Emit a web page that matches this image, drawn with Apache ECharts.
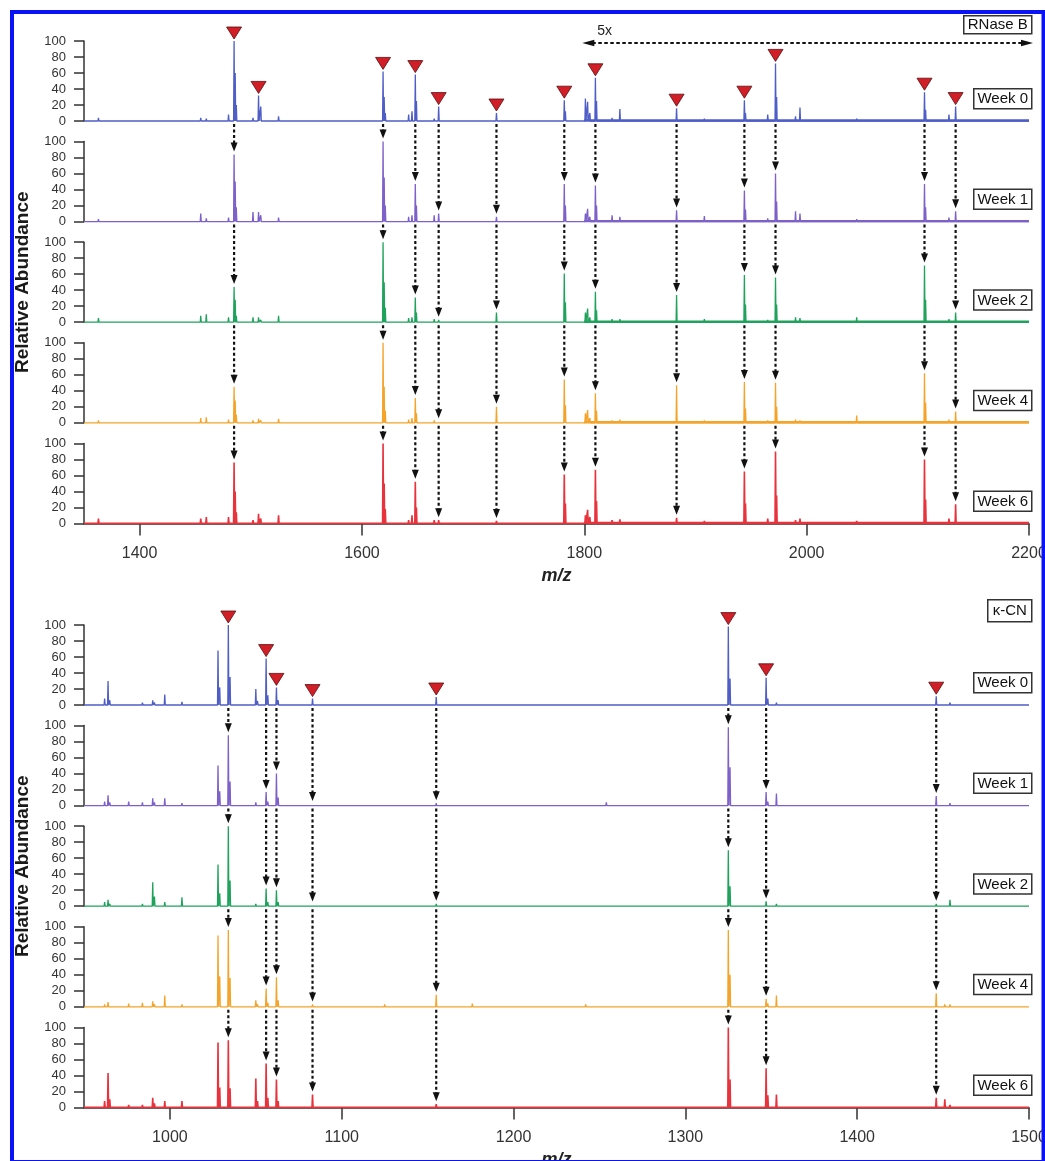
<!DOCTYPE html>
<html>
<head>
<meta charset="utf-8">
<title>Glycopeptide spectra over storage time</title>
<script src="https://cdn.jsdelivr.net/npm/echarts@6/dist/echarts.min.js"></script>
<style>
  html, body { margin: 0; padding: 0; background: #ffffff; }
  #chart { width: 1045px; height: 1161px; }
</style>
</head>
<body>
<div id="chart"></div>
<script>
// ---- data -------------------------------------------------------------
const weekNames  = ['Week 0', 'Week 1', 'Week 2', 'Week 4', 'Week 6'];
const weekColors = ['#4f5ec6', '#7d60c8', '#1fa35c', '#f4a42a', '#e8323c'];

// RNase B: peak positions (m/z) and relative abundance per week
const rnaseMz    = [1363,1455,1460,1480,1485,1486,1487,1502,1507,1509,1525,1619,1620,1621,1642,1645,1648,1649,1665,1669,1721,1782,1783,1801,1803,1805,1810,1811,1825,1832,1883,1908,1944,1945,1965,1972,1973,1990,1994,2045,2106,2107,2128,2134];
const rnaseWeek0 = [4,4,3,8,100,60,20,4,32,18,6,62,30,10,8,12,58,25,3,18,10,26,12,28,24,10,54,25,4,15,16,3,26,10,8,72,30,6,17,3,36,14,8,18];
const rnaseWeek1 = [3,10,4,5,84,50,18,12,12,8,5,100,55,20,6,8,47,20,8,10,6,47,20,10,16,6,45,20,8,6,14,7,39,15,4,60,25,13,10,3,47,18,5,13];
const rnaseWeek2 = [5,8,10,6,44,28,8,6,6,3,8,100,50,18,5,6,31,12,4,3,12,61,25,12,17,6,38,15,4,4,34,4,59,22,3,56,22,6,5,6,71,28,4,12];
const rnaseWeek4 = [3,6,7,4,45,28,10,3,5,3,5,100,45,15,4,6,31,12,3,2,20,54,22,12,16,6,37,15,3,4,47,3,51,18,3,50,20,4,3,9,62,25,4,14];
const rnaseWeek6 = [6,6,8,8,76,40,14,4,12,6,10,100,50,18,4,10,52,20,4,4,3,61,25,10,17,8,67,28,4,5,7,3,65,25,6,90,35,4,6,3,80,30,6,24];
const rnaseMarked  = [1485,1507,1619,1648,1669,1721,1782,1810,1883,1944,1972,2106,2134];
const rnaseTracked = [1485,1619,1648,1669,1721,1782,1810,1883,1944,1972,2106,2134];
const rnaseMagnified = [1800, 2200];   // range shown at 5x
const rnaseTicks = [1400, 1600, 1800, 2000, 2200];

// κ-CN: peak positions (m/z) and relative abundance per week
const caseinMz    = [962,964,965,976,984,990,991,997,1007,1028,1029,1034,1035,1050,1051,1056,1057,1062,1063,1083,1125,1155,1176,1242,1254,1325,1326,1347,1348,1353,1446,1451,1454];
const caseinWeek0 = [8,30,6,2,3,6,3,13,4,68,22,100,35,20,5,58,12,22,6,8,0,10,0,0,0,98,33,34,8,3,11,2,3];
const caseinWeek1 = [5,13,4,5,4,9,4,9,3,50,18,88,30,4,2,17,5,40,10,2,0,3,0,0,4,98,48,17,5,15,12,2,3];
const caseinWeek2 = [5,8,3,2,3,30,12,5,11,52,16,100,32,3,2,22,5,20,5,2,0,3,0,0,0,70,25,6,2,3,3,2,8];
const caseinWeek4 = [3,6,2,4,5,7,3,14,3,89,38,96,36,8,3,23,5,37,8,3,3,15,4,3,0,96,40,10,4,14,17,3,3];
const caseinWeek6 = [8,43,10,3,3,12,5,8,8,81,25,84,24,36,8,55,12,35,8,16,0,4,0,0,0,100,35,49,15,16,12,10,3];
const caseinMarked  = [1034,1056,1062,1083,1155,1325,1347,1446];
const caseinTracked = [1034,1056,1062,1083,1155,1325,1347,1446];
const caseinTicks = [1000, 1100, 1200, 1300, 1400, 1500];

// ---- layout -----------------------------------------------------------
const FONT = '"Liberation Sans", Arial, Helvetica, sans-serif';
const PLOT_LEFT = 84, PLOT_WIDTH = 945, PANEL_H = 80, PANEL_STEP = 100.6;

const panels = [
  { title: 'RNase B', titleWidth: 68, titleHeight: 18, top: 41, min: 1350, max: 2200,
    ticks: rnaseTicks, mz: rnaseMz, weeks: [rnaseWeek0, rnaseWeek1, rnaseWeek2, rnaseWeek4, rnaseWeek6],
    marked: rnaseMarked, tracked: rnaseTracked, halfWidth: 0.45, magnified: rnaseMagnified },
  { title: 'κ-CN', titleWidth: 44, titleHeight: 22, top: 625, min: 950, max: 1500,
    ticks: caseinTicks, mz: caseinMz, weeks: [caseinWeek0, caseinWeek1, caseinWeek2, caseinWeek4, caseinWeek6],
    marked: caseinMarked, tracked: caseinTracked, halfWidth: 0.3, magnified: null }
];

function valueAt(mz, values, m) { return values[mz.indexOf(m)]; }

// stick spectrum: every peak becomes a narrow spike on a zero baseline
function spikeTrace(mz, values, hw, min, max) {
  const pts = [[min, 0]];
  mz.forEach((m, i) => {
    if (values[i] > 0) pts.push([m - hw, 0], [m, values[i]], [m + hw, 0]);
  });
  pts.push([max, 0]);
  return pts;
}

// dotted arrow from the panel above down to the peak top in this panel
function renderTrackArrow(params, api) {
  const m = api.value(0), v = api.value(1);
  const base = api.coord([m, 0]);
  const peak = api.coord([m, v]);
  const x = base[0];
  const yStart = base[1] - PANEL_STEP + 3;
  const yTip = peak[1] - 3;
  const headH = 9, headW = 3.5;
  return {
    type: 'group',
    children: [
      { type: 'line', shape: { x1: x, y1: yStart, x2: x, y2: yTip - headH + 1 },
        style: { stroke: '#111', lineWidth: 2.2, lineDash: [3, 2.5] } },
      { type: 'polygon', shape: { points: [[x - headW, yTip - headH], [x + headW, yTip - headH], [x, yTip]] },
        style: { fill: '#111' } }
    ]
  };
}

// double-headed dotted arrow marking the magnified m/z range
function renderMagnifyArrow(params, api) {
  const a = api.coord([api.value(0), api.value(1)]);
  const b = api.coord([api.value(2), api.value(1)]);
  const y = a[1] + 2;
  return {
    type: 'group',
    children: [
      { type: 'line', shape: { x1: a[0] + 8, y1: y, x2: b[0] - 4, y2: y },
        style: { stroke: '#111', lineWidth: 2, lineDash: [3.5, 2.5] } },
      { type: 'polygon', shape: { points: [[a[0] - 2, y], [a[0] + 10, y - 3.2], [a[0] + 10, y + 3.2]] },
        style: { fill: '#111' } },
      { type: 'polygon', shape: { points: [[b[0] + 4, y], [b[0] - 8, y - 3.2], [b[0] - 8, y + 3.2]] },
        style: { fill: '#111' } },
      { type: 'text', style: { text: '5x', x: a[0] + 13, y: y - 5, fill: '#222',
        font: '14px ' + FONT, verticalAlign: 'bottom', align: 'left' } }
    ]
  };
}

const grid = [], xAxis = [], yAxis = [], series = [], graphic = [];

panels.forEach((p, pi) => {
  p.weeks.forEach((vals, w) => {
    const gi = pi * 5 + w;
    const top = p.top + w * PANEL_STEP;
    const last = w === 4;
    grid.push({ left: PLOT_LEFT, top: top, width: PLOT_WIDTH, height: PANEL_H, outerBoundsMode: 'none' });

    xAxis.push({
      type: 'value', gridIndex: gi, min: p.min, max: p.max, show: true,
      axisLine: { show: last, lineStyle: { color: '#333', width: 1.5 } },
      axisTick: { show: last, length: 12, customValues: p.ticks, lineStyle: { color: '#333', width: 1.5 } },
      axisLabel: { show: last, customValues: p.ticks, fontSize: 16, color: '#333', margin: 22, fontFamily: FONT,
        formatter: v => String(v) },
      splitLine: { show: false },
      name: last ? 'm/z' : '', nameLocation: 'middle', nameGap: 44,
      nameTextStyle: { fontSize: 18, fontWeight: 'bold', fontStyle: 'italic', color: '#222', fontFamily: FONT }
    });

    yAxis.push({
      type: 'value', gridIndex: gi, min: 0, max: 100, interval: 20,
      axisLine: { show: true, lineStyle: { color: '#333', width: 1.5 } },
      axisTick: { show: true, length: 10, lineStyle: { color: '#333', width: 1.5 } },
      axisLabel: { fontSize: 13, color: '#333', margin: 18, fontFamily: FONT, formatter: v => String(v) },
      splitLine: { show: false },
      name: w === 2 ? 'Relative Abundance' : '', nameLocation: 'middle', nameRotate: 90, nameGap: 52,
      nameTextStyle: { fontSize: 19, fontWeight: 'bold', color: '#1a1a1a', fontFamily: FONT }
    });

    series.push({
      type: 'line', name: weekNames[w], xAxisIndex: gi, yAxisIndex: gi,
      data: spikeTrace(p.mz, vals, p.halfWidth, p.min, p.max),
      symbol: 'none', showSymbol: false, clip: false, silent: true, z: 3,
      lineStyle: { color: weekColors[w], width: last ? 1.6 : 1.3 },
      areaStyle: { color: weekColors[w], opacity: 0.45 }
    });

    if (p.magnified) {
      // noisier baseline of the magnified section
      series.push({
        type: 'line', xAxisIndex: gi, yAxisIndex: gi,
        data: [[p.magnified[0], 0.6], [p.magnified[1], 0.6]],
        symbol: 'none', clip: false, silent: true, z: 3,
        lineStyle: { color: weekColors[w], width: 2.4 }
      });
    }

    if (w === 0) {
      series.push({
        type: 'scatter', xAxisIndex: gi, yAxisIndex: gi,
        data: p.marked.map(m => [m, valueAt(p.mz, vals, m)]),
        symbol: 'path://M0 0L16 0L8 12Z', symbolSize: [15, 12], symbolOffset: [0, -8],
        itemStyle: { color: '#d21f27', borderColor: '#5a0e10', borderWidth: 0.8, opacity: 1 },
        clip: false, silent: true, z: 6
      });
      if (p.magnified) {
        series.push({
          type: 'custom', xAxisIndex: gi, yAxisIndex: gi, clip: false, silent: true, z: 6,
          data: [[p.magnified[0], 100, p.magnified[1]]],
          renderItem: renderMagnifyArrow
        });
      }
    } else {
      series.push({
        type: 'custom', xAxisIndex: gi, yAxisIndex: gi, clip: false, silent: true, z: 5,
        data: p.tracked.map(m => [m, valueAt(p.mz, vals, m)]),
        renderItem: renderTrackArrow
      });
    }

    // week label box at the right end of each trace
    const boxTop = top + PANEL_H - 33;
    graphic.push({
      type: 'group', left: 973, top: boxTop, z: 20,
      children: [
        { type: 'rect', shape: { x: 0, y: 0, width: 58, height: 20 },
          style: { fill: '#fff', stroke: '#333', lineWidth: 1.5 } },
        { type: 'text', style: { text: weekNames[w], x: 29, y: 10.5, align: 'center', verticalAlign: 'middle',
          fill: '#111', font: '15px ' + FONT } }
      ]
    });
  });

  // panel title box
  graphic.push({
    type: 'group', left: 1031 - p.titleWidth, top: p.top - 26, z: 20,
    children: [
      { type: 'rect', shape: { x: 0, y: 0, width: p.titleWidth, height: p.titleHeight },
        style: { fill: '#fff', stroke: '#333', lineWidth: 1.5 } },
      { type: 'text', style: { text: p.title, x: p.titleWidth / 2, y: p.titleHeight / 2 + 0.5,
        align: 'center', verticalAlign: 'middle', fill: '#111', font: '15px ' + FONT } }
    ]
  });
});

// blue page frame
graphic.push({
  type: 'rect', z: 100, silent: true,
  shape: { x: 12, y: 12, width: 1031.5, height: 1150 },
  style: { fill: 'none', stroke: '#0a12f6', lineWidth: 4 }
});

const chart = echarts.init(document.getElementById('chart'), null, { renderer: 'canvas' });
chart.setOption({
  backgroundColor: '#ffffff',
  animation: false,
  grid, xAxis, yAxis, series, graphic
});
</script>
</body>
</html>
